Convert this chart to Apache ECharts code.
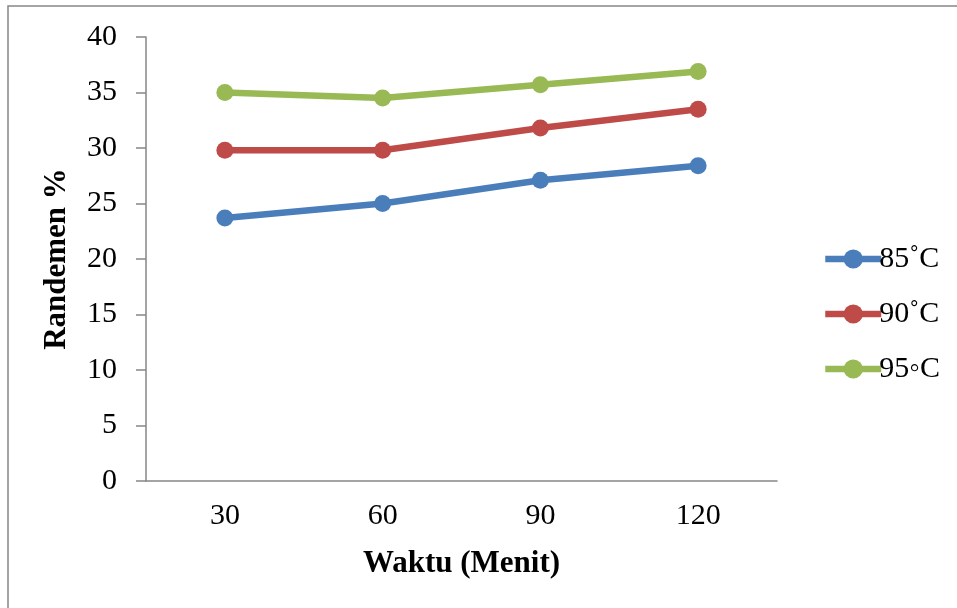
<!DOCTYPE html>
<html>
<head>
<meta charset="utf-8">
<style>
  html, body { margin: 0; padding: 0; background: #fff; }
  #chart { width: 957px; height: 608px; }
</style>
<script src="https://cdn.jsdelivr.net/npm/echarts@6/dist/echarts.min.js"></script>
</head>
<body>
<div id="chart"></div>
<script>
// Extraction time in minutes (x categories)
const waktu = ['30', '60', '90', '120'];
// Yield (%) at each temperature
const suhu85 = [23.7, 25.0, 27.1, 28.4];
const suhu90 = [29.8, 29.8, 31.8, 33.5];
const suhu95 = [35.0, 34.5, 35.7, 36.9];
const seriesNames = ['85˚C', '90˚C', '95◦C'];
const seriesColors = ['#4a7ebb', '#be4b48', '#98b954'];
const yTicks = { min: 0, max: 40, interval: 5 };

const font = 'Liberation Serif, Times New Roman, serif';
const chart = echarts.init(document.getElementById('chart'));

function lineSeries(name, data, color) {
  return {
    name: name,
    type: 'line',
    data: data,
    symbol: 'circle',
    symbolSize: 17,
    lineStyle: { width: 6.5, color: color },
    itemStyle: { color: color },
    emphasis: { disabled: true },
    animation: false
  };
}

chart.setOption({
  animation: false,
  graphic: [{
    type: 'rect',
    shape: { x: 8, y: 6, width: 960, height: 620 },
    style: { fill: 'none', stroke: '#868686', lineWidth: 1.5 },
    silent: true
  }],
  grid: { left: 146, top: 37, right: 180, bottom: 127, containLabel: false },
  legend: {
    orient: 'vertical',
    left: 817,
    top: 239,
    itemWidth: 56,
    itemHeight: 24,
    itemGap: 25,
    lineStyle: { width: 6.5 },
    textStyle: { fontFamily: font, fontSize: 30, lineHeight: 18, color: '#000', padding: [0, 0, 0, -7] },
    data: seriesNames
  },
  xAxis: {
    type: 'category',
    data: waktu,
    boundaryGap: true,
    name: 'Waktu (Menit)',
    nameLocation: 'middle',
    nameGap: 67,
    nameTextStyle: { fontFamily: font, fontSize: 31, fontWeight: 'bold', color: '#000' },
    axisLine: { lineStyle: { color: '#868686', width: 1.5 } },
    axisTick: { show: false },
    axisLabel: { fontFamily: font, fontSize: 30, color: '#000', margin: 20 },
    splitLine: { show: false }
  },
  yAxis: {
    type: 'value',
    min: yTicks.min,
    max: yTicks.max,
    interval: yTicks.interval,
    name: 'Randemen %',
    nameLocation: 'middle',
    nameGap: 74,
    nameTextStyle: { fontFamily: font, fontSize: 31, fontWeight: 'bold', color: '#000' },
    axisLine: { show: true, lineStyle: { color: '#868686', width: 1.5 } },
    axisTick: { show: true, length: 10, lineStyle: { color: '#868686', width: 1.5 } },
    axisLabel: { fontFamily: font, fontSize: 30, color: '#000', margin: 29 },
    splitLine: { show: false }
  },
  series: [
    lineSeries(seriesNames[0], suhu85, seriesColors[0]),
    lineSeries(seriesNames[1], suhu90, seriesColors[1]),
    lineSeries(seriesNames[2], suhu95, seriesColors[2])
  ]
});
</script>
</body>
</html>
